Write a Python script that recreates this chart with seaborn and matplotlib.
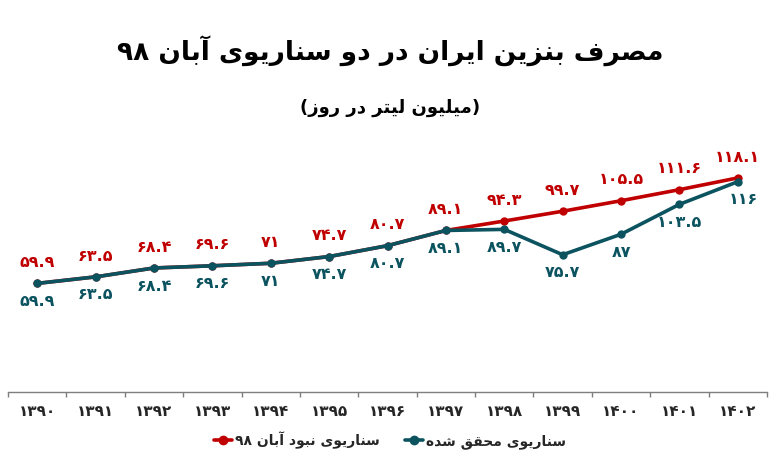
import matplotlib
matplotlib.use("Agg")
import matplotlib.pyplot as plt
import seaborn as sns
import pandas as pd
import numpy as np
from matplotlib.lines import Line2D

# ---------------- data ----------------
years = ["۱۳۹۰", "۱۳۹۱", "۱۳۹۲", "۱۳۹۳", "۱۳۹۴", "۱۳۹۵", "۱۳۹۶",
         "۱۳۹۷", "۱۳۹۸", "۱۳۹۹", "۱۴۰۰", "۱۴۰۱", "۱۴۰۲"]
no_aban = [59.9, 63.5, 68.4, 69.6, 71, 74.7, 80.7, 89.1, 94.3, 99.7, 105.5, 111.6, 118.1]
actual = [59.9, 63.5, 68.4, 69.6, 71, 74.7, 80.7, 89.1, 89.7, 75.7, 87, 103.5, 116]
title = "مصرف بنزین ایران در دو سناریوی آبان ۹۸"
subtitle = "(میلیون لیتر در روز)"
label_no_aban = "سناریوی نبود آبان ۹۸"
label_actual = "سناریوی محقق شده"

RED = "#C00000"
TEAL = "#0C5360"

# ------------- minimal Persian shaping (presentation forms) -------------
FORMS = {
    '\u0627': ('\uFE8D', '\uFE8E', None, None),
    '\u0622': ('\uFE81', '\uFE82', None, None),
    '\u0628': ('\uFE8F', '\uFE90', '\uFE91', '\uFE92'),
    '\u062A': ('\uFE95', '\uFE96', '\uFE97', '\uFE98'),
    '\u062D': ('\uFEA1', '\uFEA2', '\uFEA3', '\uFEA4'),
    '\u062F': ('\uFEA9', '\uFEAA', None, None),
    '\u0631': ('\uFEAD', '\uFEAE', None, None),
    '\u0632': ('\uFEAF', '\uFEB0', None, None),
    '\u0633': ('\uFEB1', '\uFEB2', '\uFEB3', '\uFEB4'),
    '\u0634': ('\uFEB5', '\uFEB6', '\uFEB7', '\uFEB8'),
    '\u0635': ('\uFEB9', '\uFEBA', '\uFEBB', '\uFEBC'),
    '\u0641': ('\uFED1', '\uFED2', '\uFED3', '\uFED4'),
    '\u0642': ('\uFED5', '\uFED6', '\uFED7', '\uFED8'),
    '\u0644': ('\uFEDD', '\uFEDE', '\uFEDF', '\uFEE0'),
    '\u0645': ('\uFEE1', '\uFEE2', '\uFEE3', '\uFEE4'),
    '\u0646': ('\uFEE5', '\uFEE6', '\uFEE7', '\uFEE8'),
    '\u0647': ('\uFEE9', '\uFEEA', '\uFEEB', '\uFEEC'),
    '\u0648': ('\uFEED', '\uFEEE', None, None),
    '\u06CC': ('\uFEEF', '\uFEF0', '\uFEF3', '\uFEF4'),
}
DIGITS = set("0123456789۰۱۲۳۴۵۶۷۸۹.")
MIRROR = {'(': ')', ')': '('}


def fa(text):
    chars = list(text)
    out = []
    for i, c in enumerate(chars):
        if c not in FORMS:
            out.append(c)
            continue
        prev = chars[i - 1] if i > 0 else None
        nxt = chars[i + 1] if i + 1 < len(chars) else None
        cp = prev in FORMS and FORMS[prev][2] is not None
        cn = FORMS[c][2] is not None and nxt in FORMS
        iso, fin, ini, med = FORMS[c]
        if cp and cn:
            out.append(med)
        elif cp:
            out.append(fin)
        elif cn:
            out.append(ini)
        else:
            out.append(iso)
    # visual order: reverse, keep digit runs LTR
    runs = []
    for c in out:
        isd = c in DIGITS
        if runs and runs[-1][0] == isd and isd:
            runs[-1][1].append(c)
        else:
            runs.append([isd, [c]])
    vis = []
    for isd, cs in reversed(runs):
        if isd:
            vis.extend(cs)
        else:
            vis.extend(MIRROR.get(ch, ch) for ch in reversed(cs))
    return "".join(vis)


def fa_num(v):
    s = f"{v:g}"
    return s.translate(str.maketrans("0123456789", "۰۱۲۳۴۵۶۷۸۹"))


# ---------------- plot ----------------
sns.set_theme(style="white")
plt.rcParams['font.family'] = ['DejaVu Sans']

x = np.arange(len(years))
df = pd.DataFrame({
    "x": np.concatenate([x, x]),
    "y": no_aban + actual,
    "s": [label_no_aban] * len(x) + [label_actual] * len(x),
})

fig = plt.figure(figsize=(7.8, 4.7), dpi=100)
ax = fig.add_axes([0.0103, 0.166, 0.973, 0.54])

sns.lineplot(data=df, x="x", y="y", hue="s",
             hue_order=[label_no_aban, label_actual],
             palette=[RED, TEAL], marker="o", markersize=6,
             markeredgewidth=0, linewidth=2.6, ax=ax, legend=False)

for xi, v in zip(x, no_aban):
    ax.annotate(fa_num(v), (xi, v), xytext=(0, 15), textcoords="offset points",
                ha="center", va="center", color=RED, fontsize=11.5,
                fontweight="bold")
for xi, v in zip(x, actual):
    dx = 4 if xi == len(x) - 1 else 0
    ax.annotate(fa_num(v), (xi, v), xytext=(dx, -13), textcoords="offset points",
                ha="center", va="center", color=TEAL, fontsize=11.5,
                fontweight="bold")

ax.set_xlim(-0.5, len(x) - 0.5)
ax.set_ylim(0, 140)
ax.set_xticks(x)
ax.set_xticklabels(years, fontsize=11, fontweight="bold")
ax.set_xticks(np.arange(-0.5, len(x), 1.0), minor=True)
ax.tick_params(axis="x", which="major", length=0, pad=9)
ax.tick_params(axis="x", which="minor", length=3.5, width=1, color="#7f7f7f",
               bottom=True)
ax.set_yticks([])
ax.set_xlabel("")
ax.set_ylabel("")
for sp in ["top", "left", "right"]:
    ax.spines[sp].set_visible(False)
ax.spines["bottom"].set_color("#7f7f7f")
ax.spines["bottom"].set_linewidth(1)

fig.text(0.5, 0.893, fa(title), ha="center", va="center", fontsize=19,
         fontweight="bold", color="black")
fig.text(0.5, 0.77, fa(subtitle), ha="center", va="center", fontsize=13,
         fontweight="bold", color="black")

handles = [Line2D([0], [0], color=RED, lw=2.6, marker="o", markersize=6),
           Line2D([0], [0], color=TEAL, lw=2.6, marker="o", markersize=6)]
fig.legend(handles, [fa(label_no_aban), fa(label_actual)], loc="center",
           bbox_to_anchor=(0.5, 0.064), ncol=2, frameon=False,
           prop={"size": 10, "weight": "bold"}, handlelength=1.3,
           handletextpad=0.2, columnspacing=1.8)

fig.savefig("out.png", dpi=100)
